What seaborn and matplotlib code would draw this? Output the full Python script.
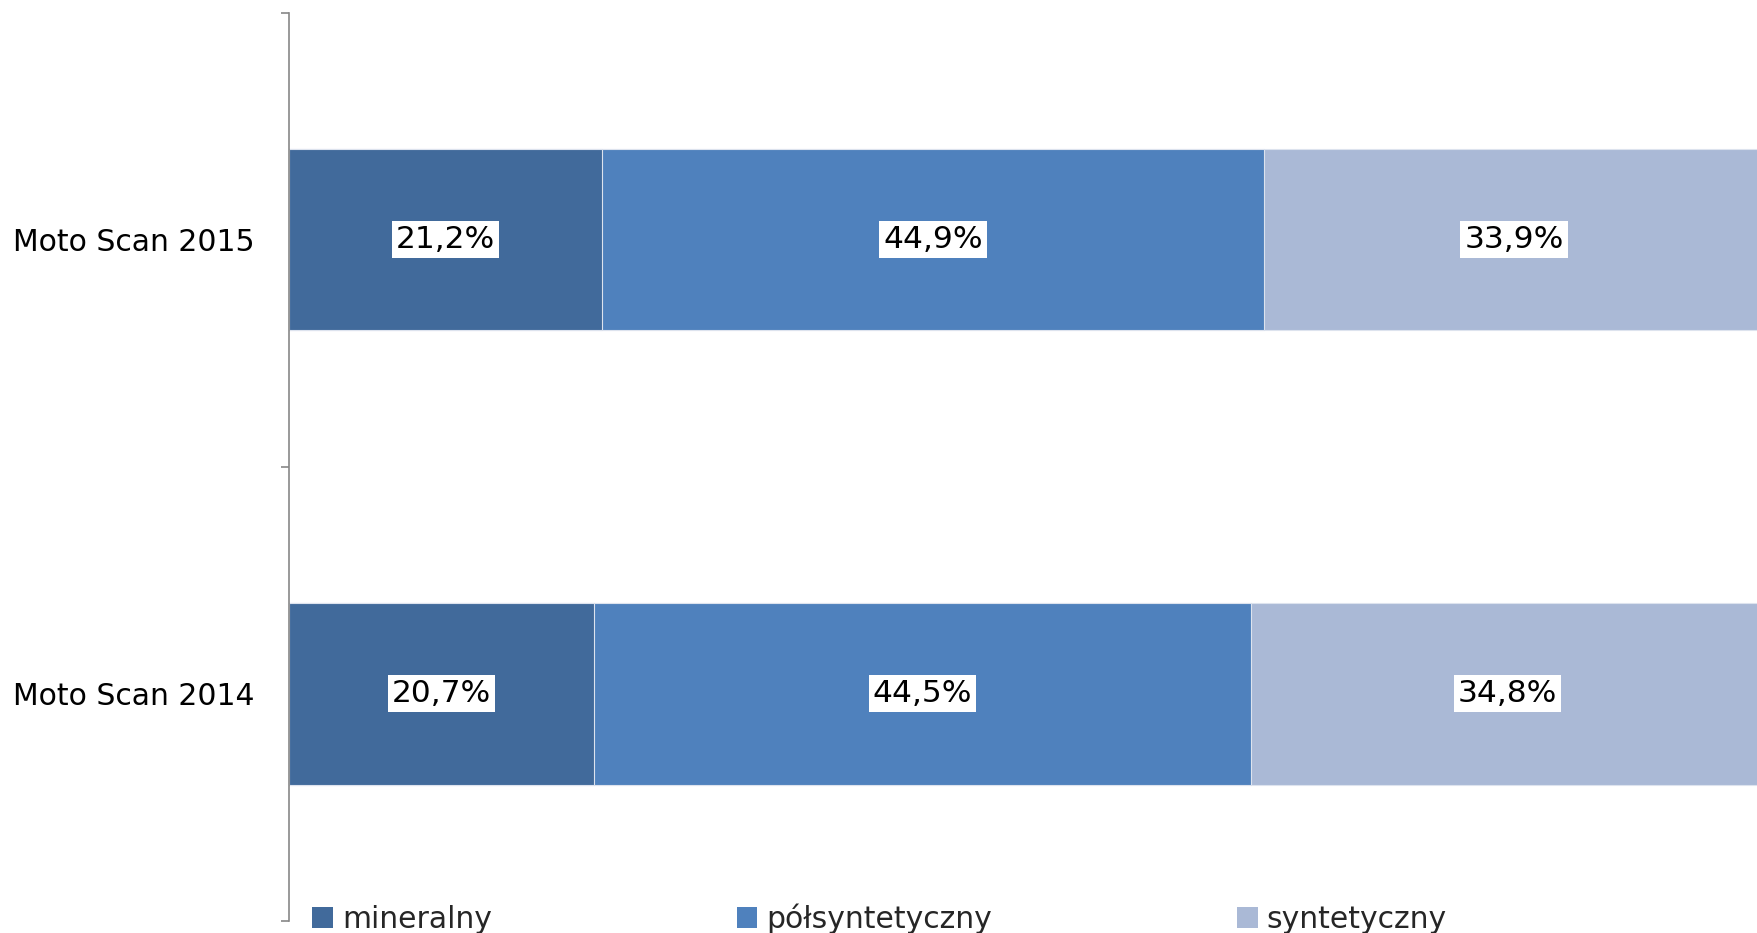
import matplotlib
matplotlib.use("Agg")
import matplotlib.pyplot as plt
import seaborn as sns
import pandas as pd
import numpy as np
from matplotlib.patches import Patch

categories = ["Moto Scan 2015", "Moto Scan 2014"]
series_names = ["mineralny", "półsyntetyczny", "syntetyczny"]
mineralny = [21.2, 20.7]
polsyntetyczny = [44.9, 44.5]
syntetyczny = [33.9, 34.8]
colors = ["#416A9B", "#4F81BD", "#AAB9D6"]

sns.set_theme(style="white")
plt.rcParams['font.family'] = ['DejaVu Sans']

fig = plt.figure(figsize=(17.58, 9.33), dpi=100)
ax = fig.add_axes([289/1758, 12/933, 1475/1758, 908.5/933])

values = [mineralny, polsyntetyczny, syntetyczny]
cum = np.cumsum(np.array(values), axis=0)
# draw from the outermost (total) to innermost so stacks overlay correctly
for i in [2, 1, 0]:
    df = pd.DataFrame({"cat": categories, "val": cum[i]})
    sns.barplot(data=df, x="val", y="cat", order=categories, color=colors[i],
                width=0.4, saturation=1, ax=ax, edgecolor="#DDE3EE", linewidth=0.8)

ax.set_xlim(0, 100)
ax.set_ylim(1.5, -0.5)
ax.set_xlabel("")
ax.set_ylabel("")
ax.set_xticks([])

# data labels
for i in range(3):
    starts = cum[i] - np.array(values[i])
    for j, cat in enumerate(categories):
        xc = starts[j] + values[i][j] / 2
        ax.text(xc, j, f"{values[i][j]:.1f}%".replace(".", ","), ha="center", va="center",
                fontsize=22.5, color="black",
                bbox=dict(facecolor="white", edgecolor="none", pad=3))

# spines and ticks
for s in ["top", "right", "bottom"]:
    ax.spines[s].set_visible(False)
ax.spines["left"].set_color("#878787")
ax.spines["left"].set_linewidth(1.2)
ax.set_yticks([0, 1])
ax.set_yticklabels(categories, fontsize=21.5, color="black")
ax.tick_params(axis="y", which="major", length=0, pad=25)
ax.set_yticks([-0.5, 0.5, 1.5], minor=True)
ax.tick_params(axis="y", which="minor", length=6, width=1.2, color="#878787", left=True)

handles = [Patch(facecolor=c, edgecolor="none") for c in colors]
fig.legend(handles, series_names, loc="lower left", bbox_to_anchor=(300/1758, -13/933),
           ncol=3, frameon=False, fontsize=21.5, handlelength=0.7, handleheight=0.7,
           handletextpad=0.3, columnspacing=8.2, borderaxespad=0)

fig.savefig("out.png", dpi=100)
